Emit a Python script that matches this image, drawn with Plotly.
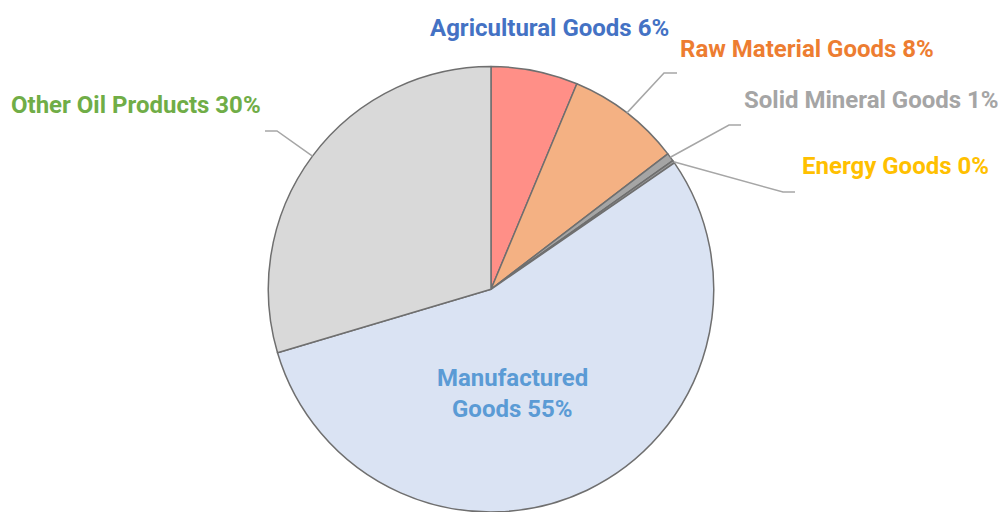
import math
import plotly.graph_objects as go

# Export shares by product group (percent of total)
categories = ["Agricultural Goods", "Raw Material Goods", "Solid Mineral Goods",
              "Energy Goods", "Manufactured Goods", "Other Oil Products"]
shares = [6.3, 8.3, 0.6, 0.2, 55.0, 29.6]

slice_colors = ["#FF8F87", "#F4B183", "#A5A5A5", "#9A9A9A", "#DAE3F3", "#D9D9D9"]
label_colors = ["#4472C4", "#ED7D31", "#A5A5A5", "#FFC000", "#5B9BD5", "#70AD47"]

W, H = 1001, 512
DOM_X = [0.2405, 0.7405]
DOM_Y = [0.0, 0.87]

total = sum(shares)
pct = [round(v / total * 100) for v in shares]
labels = [f"{c} {p}%" for c, p in zip(categories, pct)]

fig = go.Figure(go.Pie(
    labels=categories,
    values=shares,
    sort=False,
    direction="clockwise",
    rotation=0,
    textinfo="none",
    hoverinfo="none",
    marker=dict(colors=slice_colors, line=dict(color="#6F6F6F", width=1.5)),
    domain=dict(x=DOM_X, y=DOM_Y),
    showlegend=False,
))

# Pie geometry in pixels (matches plotly's radius = min(box w, box h) / 2)
box_w = (DOM_X[1] - DOM_X[0]) * W
box_h = (DOM_Y[1] - DOM_Y[0]) * H
R = min(box_w, box_h) / 2
CX = (DOM_X[0] + DOM_X[1]) / 2 * W
CY = H - (DOM_Y[0] + DOM_Y[1]) / 2 * H


def px(x, y):
    return x / W, 1 - y / H


def edge_point(i):
    start = sum(shares[:i]) / total
    mid = start + shares[i] / total / 2
    ang = mid * 2 * math.pi
    return CX + R * math.sin(ang), CY - R * math.cos(ang)


# Label placement (pixel anchor, x anchor)
label_pos = {
    0: (549, 28, "center"),
    1: (807, 49, "center"),
    2: (W, 100, "right"),
    3: (800, 166, "left"),
    5: (136, 105, "center"),
}
# Leader line elbows and ends for outside labels
leaders = {
    1: [(664, 73), (677, 73)],
    2: [(729, 125), (741, 125)],
    3: [(783, 192), (795, 192)],
    5: [(277, 131), (265, 131)],
}

font_family = "Roboto, 'Noto Sans', sans-serif"
FS = 24
annotations = []
for i, (x, y, anchor) in label_pos.items():
    ax, ay = px(x, y)
    annotations.append(dict(
        x=ax, y=ay, xref="paper", yref="paper", xanchor=anchor, yanchor="middle",
        text=labels[i], showarrow=False,
        font=dict(family=font_family, size=FS, color=label_colors[i], weight=700),
    ))

# Manufactured goods label sits inside its slice on two lines
man_lines = ["Manufactured", f"Goods {pct[4]}%"]
for line, y in zip(man_lines, [378, 409]):
    ax, ay = px(512, y)
    annotations.append(dict(
        x=ax, y=ay, xref="paper", yref="paper", xanchor="center", yanchor="middle",
        text=line, showarrow=False,
        font=dict(family=font_family, size=FS, color=label_colors[4], weight=700),
    ))

shapes = []
for i, pts in leaders.items():
    sx, sy = edge_point(i)
    coords = [px(sx, sy)] + [px(x, y) for x, y in pts]
    path = "M " + " L ".join(f"{a:.5f},{b:.5f}" for a, b in coords)
    shapes.append(dict(type="path", path=path, xref="paper", yref="paper",
                       line=dict(color="#A6A6A6", width=1.5)))

fig.update_layout(
    width=W, height=H,
    margin=dict(l=0, r=0, t=0, b=0),
    paper_bgcolor="white", plot_bgcolor="white",
    annotations=annotations,
    shapes=shapes,
)

fig.write_html("out.html")
